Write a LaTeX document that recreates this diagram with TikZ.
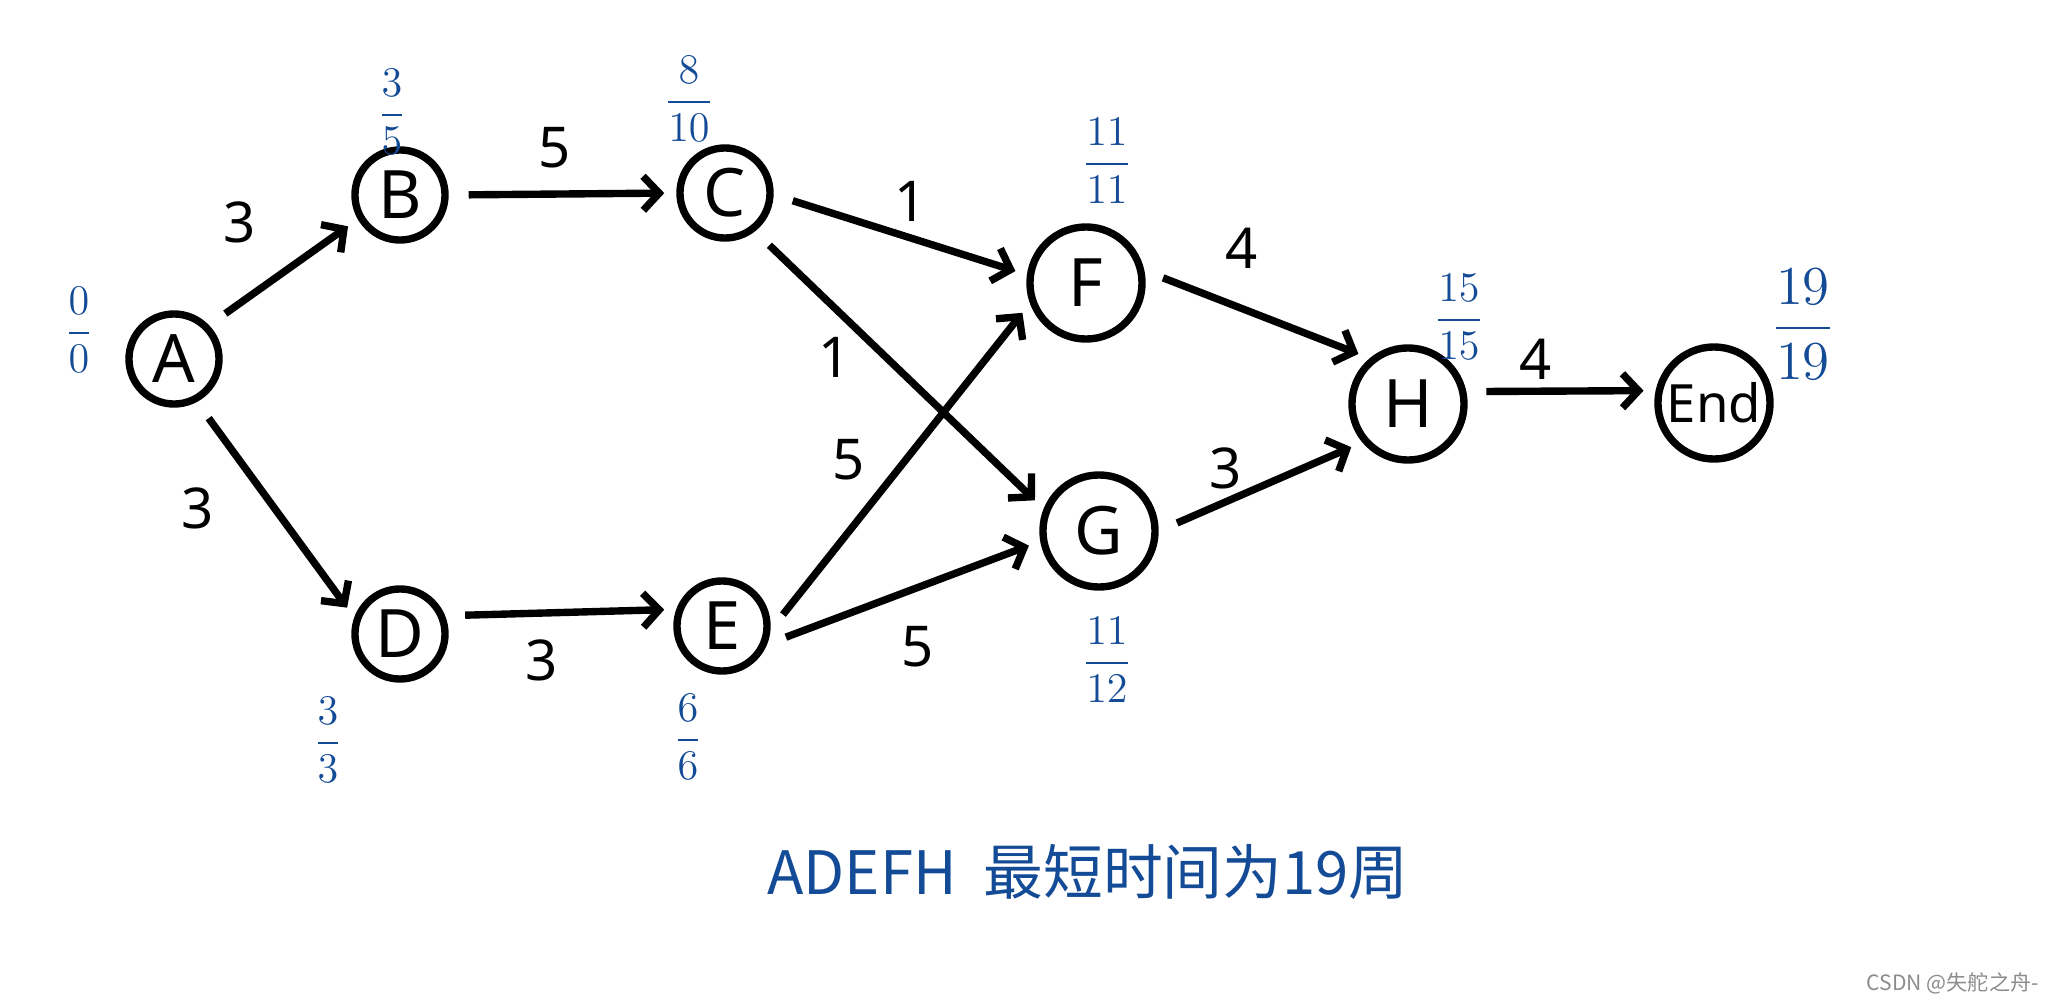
\documentclass[tikz,border=0pt]{standalone}
\usepackage{amsmath}
\usepackage{fontspec}
\setmainfont{Noto Sans}
\newfontfamily\cjk{Noto Sans CJK SC}
\usetikzlibrary{arrows.meta}
\definecolor{penblue}{RGB}{20,75,150}
\begin{document}
\begin{tikzpicture}[x=0.01cm, y=-0.01cm, line width=2.1pt]
            \tikzstyle{event}=[circle, draw, minimum size=0.9cm, inner sep=0pt, font=\fontsize{19}{22}\selectfont]
            \tikzstyle{bigevent}=[event, minimum size=1.12cm]
            \tikzstyle{act}=[-{Straight Barb[length=1.6mm, width=3.4mm]}, shorten <=0.2cm, shorten >=0.12cm]
            \tikzstyle{wt}=[font=\fontsize{16}{18}\selectfont]
            \tikzstyle{tm}=[text=penblue, font=\fontsize{12}{14}\selectfont, inner sep=0pt]
            \useasboundingbox (0,0) rectangle (2071,1000);
            % events
            \node[event] (A) at (174,359) {A};
            \node[event] (B) at (400,195) {B};
            \node[event] (C) at (725,193) {C};
            \node[event] (D) at (400,634) {D};
            \node[event] (E) at (722,626) {E};
            \node[bigevent] (F) at (1086,283) {F};
            \node[bigevent] (G) at (1099,531) {G};
            \node[bigevent] (H) at (1408,404) {H};
            \node[bigevent, font=\fontsize{15}{18}\selectfont] (End) at (1714,403) {End};
            % activities
            \draw[act] (A.44) -- (B.210);
            \draw[act] (A.-62) -- (D.160);
            \draw[act] (B.0) -- (C.180);
            \draw[act] (D.22) -- (E.160);
            \draw[act] (C.-2) -- (F.172);
            \draw[act] (C.-52) -- (G.158);
            \draw[act] (E.-5) -- (F.200);
            \draw[act] (E.-22) -- (G.190);
            \draw[act] (F.12) -- (H.130);
            \draw[act] (G.0) -- (H.220);
            \draw[act] (H.12) -- (End.168);
            % durations
            \node[wt] (wAB) at (240,222) {3};
            \node[wt] (wAD) at (198,508) {3};
            \node[wt] (wBC) at (555,148) {5};
            \node[wt] (wDE) at (542,660) {3};
            \node[wt] (wCF) at (911,201) {1};
            \node[wt] (wCG) at (835,357) {1};
            \node[wt] (wEF) at (849,460) {5};
            \node[wt] (wEG) at (918,647) {5};
            \node[wt] (wFH) at (1242,248) {4};
            \node[wt] (wGH) at (1226,468) {3};
            \node[wt] (wHEnd) at (1536,359) {4};
            % earliest / latest times
            \node[tm] (tA) at (79,330) {$\dfrac{0}{0}$};
            \node[tm] (tB) at (392,112) {$\dfrac{3}{5}$};
            \node[tm] (tC) at (689,99) {$\dfrac{8}{10}$};
            \node[tm] (tD) at (328,740) {$\dfrac{3}{3}$};
            \node[tm] (tE) at (688,737) {$\dfrac{6}{6}$};
            \node[tm] (tF) at (1107,161) {$\dfrac{11}{11}$};
            \node[tm] (tG) at (1107,660) {$\dfrac{11}{12}$};
            \node[tm] (tH) at (1459,317) {$\dfrac{15}{15}$};
            \node[tm, scale=1.3] (tEnd) at (1803,324) {$\dfrac{19}{19}$};
            \node[text=penblue, font=\cjk\fontsize{17}{20}\selectfont] (path) at (1088,872) {ADEFH\ \ 最短时间为19周};
            \node[text=black!45, font=\cjk\fontsize{6}{7}\selectfont, anchor=east] (mark) at (2054,983) {CSDN @失舵之舟-};
\end{tikzpicture}
\end{document}
